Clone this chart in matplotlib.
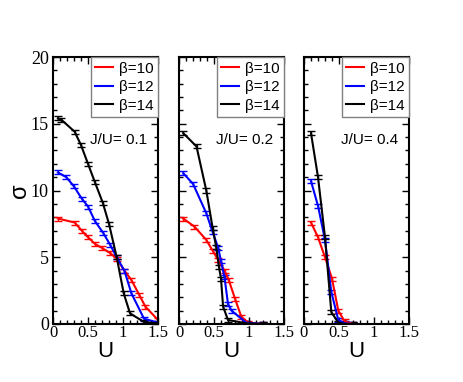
import matplotlib.pyplot as plt
from matplotlib.lines import Line2D

# J/U = 0.1
u1_b10 = [0.07, 0.31, 0.41, 0.5, 0.6, 0.7, 0.82, 0.91, 1.02, 1.12, 1.23, 1.32, 1.5]
s1_b10 = [7.9, 7.6, 7.0, 6.5, 6.0, 5.7, 5.3, 4.9, 4.0, 3.3, 2.2, 1.3, 0.3]
u1_b12 = [0.07, 0.19, 0.3, 0.41, 0.5, 0.6, 0.72, 0.82, 0.91, 1.02, 1.12, 1.3, 1.5]
s1_b12 = [11.35, 11.0, 10.3, 9.4, 8.8, 7.7, 6.8, 5.9, 5.0, 4.0, 2.3, 0.4, 0.1]
u1_b14 = [0.07, 0.12, 0.31, 0.4, 0.5, 0.6, 0.71, 0.8, 0.91, 1.01, 1.1, 1.3, 1.5]
s1_b14 = [15.4, 15.3, 14.4, 13.4, 12.0, 10.6, 9.1, 7.5, 5.0, 2.3, 0.8, 0.15, 0.05]

# J/U = 0.2
u2_b10 = [0.06, 0.22, 0.39, 0.48, 0.56, 0.65, 0.71, 0.8, 0.89, 0.99, 1.2]
s2_b10 = [7.9, 7.3, 6.3, 5.5, 4.8, 4.0, 3.3, 1.9, 0.55, 0.1, 0.0]
u2_b12 = [0.06, 0.2, 0.39, 0.48, 0.56, 0.6, 0.65, 0.7, 0.75, 0.96, 1.2]
s2_b12 = [11.3, 10.5, 8.3, 6.9, 5.7, 4.7, 3.5, 1.5, 1.0, 0.1, 0.0]
u2_b14 = [0.06, 0.25, 0.39, 0.48, 0.53, 0.57, 0.6, 0.63, 0.7, 0.96, 1.2]
s2_b14 = [14.3, 13.3, 10.0, 7.2, 5.8, 4.3, 3.4, 1.3, 0.3, 0.05, 0.0]

# J/U = 0.4
u3_b10 = [0.1, 0.2, 0.3, 0.4, 0.49, 0.58, 0.7]
s3_b10 = [7.6, 6.5, 5.0, 3.4, 1.0, 0.2, 0.0]
u3_b12 = [0.1, 0.2, 0.3, 0.39, 0.49, 0.58, 0.7]
s3_b12 = [10.7, 8.85, 6.3, 2.4, 0.3, 0.05, 0.0]
u3_b14 = [0.1, 0.2, 0.3, 0.39, 0.49, 0.58, 0.7]
s3_b14 = [14.3, 11.0, 6.5, 0.9, 0.1, 0.0, 0.0]

panels = [
    ("J/U= 0.1", [(u1_b10, s1_b10), (u1_b12, s1_b12), (u1_b14, s1_b14)]),
    ("J/U= 0.2", [(u2_b10, s2_b10), (u2_b12, s2_b12), (u2_b14, s2_b14)]),
    ("J/U= 0.4", [(u3_b10, s3_b10), (u3_b12, s3_b12), (u3_b14, s3_b14)]),
]
betas = ["\u03b2=10", "\u03b2=12", "\u03b2=14"]
colors = ["red", "blue", "black"]

fig = plt.figure(figsize=(4.63, 3.82), dpi=100)
lefts = [53 / 463, 179 / 463, 304 / 463]
sans = "Liberation Sans"
serif = "Liberation Serif"

for i, (label, series) in enumerate(panels):
    ax = fig.add_axes([lefts[i], 1 - 324 / 382, 105 / 463, 267 / 382])
    for (u, s), c in zip(series, colors):
        ax.errorbar(u, s, yerr=0.15, color=c, lw=1.5, elinewidth=1.0,
                    capsize=3, capthick=1.0)
    ax.set_xlim(0, 1.5)
    ax.set_ylim(0, 20)
    ax.set_xticks([0, 0.5, 1, 1.5])
    ax.set_xticklabels(["0", "0.5", "1", "1.5"], family=serif, fontsize=12)
    ax.set_xticks([x / 10 for x in range(16)], minor=True)
    ax.set_yticks([0, 5, 10, 15, 20])
    ax.set_yticks(range(21), minor=True)
    if i == 0:
        ax.set_yticklabels(["0", "5", "10", "15", "20"], family=serif, fontsize=13)
        ax.set_ylabel("\u03c3", family=sans, fontsize=17, labelpad=0)
    else:
        ax.set_yticklabels([])
    ax.tick_params(which="both", direction="in", top=True, right=True, width=1)
    ax.tick_params(which="major", length=5, pad=1)
    ax.tick_params(which="minor", length=3)
    ax.tick_params(axis="y", which="major", pad=3)
    for sp in ax.spines.values():
        sp.set_linewidth(1.5)
    ax.set_xlabel("U", family=sans, fontsize=16, labelpad=0)
    handles = [Line2D([], [], color=c, lw=1.5) for c in colors]
    leg = ax.legend(handles, betas, loc="upper right", borderaxespad=0,
                    fancybox=False, prop={"family": sans, "size": 11},
                    handlelength=1.2, handletextpad=0.35, borderpad=0.3,
                    labelspacing=0.3, framealpha=1)
    leg.get_frame().set_edgecolor("gray")
    leg.get_frame().set_linewidth(1.0)
    ax.text(0.9, 0.69, label, transform=ax.transAxes, ha="right", va="center",
            family=sans, fontsize=11)

plt.savefig("out.png", dpi=100)
